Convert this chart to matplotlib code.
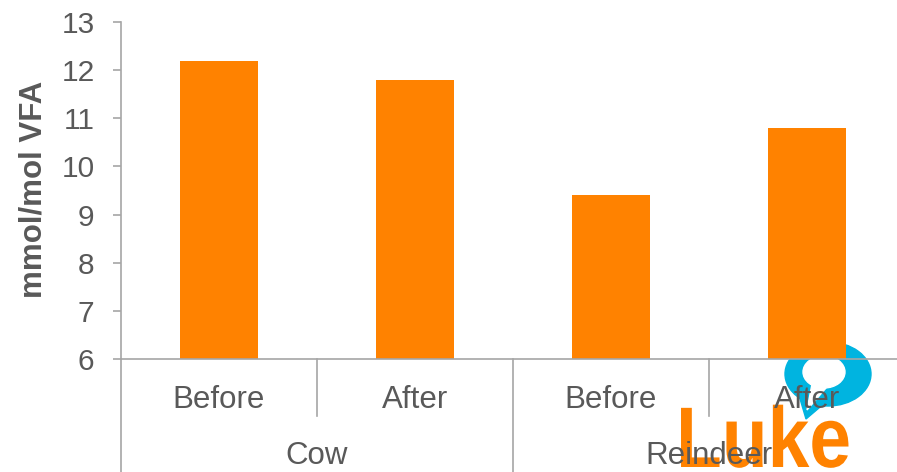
import matplotlib
matplotlib.use("Agg")
import matplotlib.pyplot as plt
import matplotlib.transforms as mtransforms
from matplotlib.patches import Ellipse, Polygon, PathPatch
from matplotlib.textpath import TextPath
from matplotlib.font_manager import FontProperties

plt.rcParams['font.family'] = ['Liberation Sans', 'DejaVu Sans']

groups = ["Cow", "Reindeer"]
periods = ["Before", "After", "Before", "After"]
values = [12.2, 11.8, 9.4, 10.8]

ORANGE = "#FF8200"
BLUE = "#00B4E0"
TEXT = "#595959"
LINE = "#A6A6A6"

W, H = 897, 472
fig = plt.figure(figsize=(W / 100, H / 100), dpi=100)
ax = fig.add_axes([121 / W, (H - 359) / H, 784 / W, 337 / H])
ax.patch.set_visible(False)

x = list(range(len(values)))
ax.bar(x, [v - 6 for v in values], bottom=6, width=0.4, color=ORANGE, zorder=2)

ax.set_xlim(-0.5, len(values) - 0.5)
ax.set_ylim(6, 13)
ax.set_yticks(range(6, 14))
ax.tick_params(axis='y', labelsize=21.5, colors=LINE, labelcolor=TEXT,
               length=6, width=1.2, direction='out', pad=13)
ax.set_xticks([])
for s in ["top", "right"]:
    ax.spines[s].set_visible(False)
for s in ["left", "bottom"]:
    ax.spines[s].set_color(LINE)
    ax.spines[s].set_linewidth(1.2)

# y-axis title
fig.text(34 / W, 1 - 189 / H, "mmol/mol VFA", rotation=90, ha="center", va="center",
         fontsize=22.5, fontweight="bold", color=TEXT)

trans = mtransforms.blended_transform_factory(ax.transData, ax.transAxes)
# separators between periods within a group
for xs in [0.5, 2.5]:
    ax.plot([xs, xs], [0, -57 / 337], transform=trans, color=LINE, lw=1.2, clip_on=False)
# separators between groups
for xs in [-0.5, 1.5, 3.5]:
    ax.plot([xs, xs], [0, -0.4], transform=trans, color=LINE, lw=1.2, clip_on=False)

# period labels
for xi, lab in zip(x, periods):
    ax.text(xi, -41 / 337, lab, transform=trans, ha="center", va="center",
            fontsize=22.5, color=TEXT)
# group labels
for gi, g in enumerate(groups):
    ax.text(2 * gi + 0.5, -97 / 337, g, transform=trans, ha="center", va="center",
            fontsize=22.5, color=TEXT)

# Luke logo, drawn in display pixels behind the axes
ident = mtransforms.IdentityTransform()
fig.add_artist(Ellipse((828, H - 374), 86, 64, color=BLUE, transform=ident, zorder=-2))
fig.add_artist(Polygon([(798, H - 392), (826, H - 402), (806, H - 419)], closed=True,
                       color=BLUE, transform=ident, zorder=-2))
fig.add_artist(Ellipse((824, H - 372), 42, 32, color="white", transform=ident, zorder=-1.5))
fig.add_artist(Polygon([(812, H - 384), (826, H - 388), (807, H - 410)], closed=True,
                       color="white", transform=ident, zorder=-1.5))

tp = TextPath((0, 0), "Luke", size=1, prop=FontProperties(family="Liberation Sans", weight="bold"))
tp_tr = mtransforms.Affine2D().scale(75, 86).translate(676, H - 467)
fig.add_artist(PathPatch(tp, color=ORANGE, lw=0, transform=tp_tr + ident, zorder=-1))

fig.savefig("out.png", dpi=100)
